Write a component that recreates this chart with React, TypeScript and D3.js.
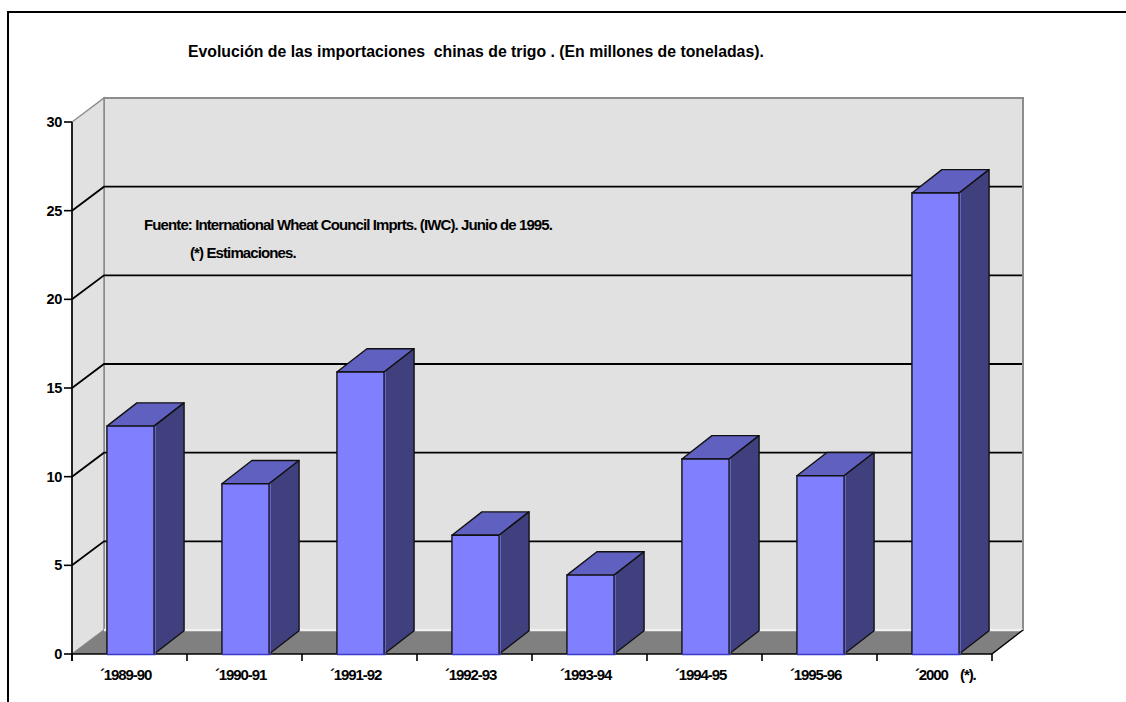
import React from 'react';
import * as d3 from 'd3';

const categories = ['´1989-90', '´1990-91', '´1991-92', '´1992-93', '´1993-94', '´1994-95', '´1995-96', '´2000    (*).'];
const values = [12.85, 9.6, 15.9, 6.7, 4.45, 11.0, 10.05, 26.0];
const yTicks = [0, 5, 10, 15, 20, 25, 30];

const width = 1126;
const height = 702;
const left = 72;
const right = 992;
const bottom = 654;
const top = 122;
const depthX = 32;
const depthY = 24;
const barDepthX = 30;
const barDepthY = 23.3;
const font = '"Liberation Sans", Arial, sans-serif';

// +1 porque las barras del original van un pixel a la derecha de la escala
const x = d3.scaleBand<string>().domain(categories).range([left + 1, right + 1]).paddingInner(0.59).paddingOuter(0.295);
const y = d3.scaleLinear().domain([0, 30]).range([bottom, top]);

const poly = (pts: [number, number][]) => d3.line()(pts) + 'Z';

export default function App() {
  return (
    <svg width={width} height={height} style={{ position: 'absolute', left: 0, top: 0, background: '#fff' }}>
      {/* marco */}
      <path d={`M8,${height}V12H${width}`} fill="none" stroke="#000" strokeWidth={2} />

      <text x={188} y={56.5} fontFamily={font} fontWeight="bold" fontSize={15.8} fill="#000" style={{ whiteSpace: 'pre' }}>
        Evolución de las importaciones  chinas de trigo . (En millones de toneladas).
      </text>

      {/* paredes y suelo */}
      <path d={poly([[left + depthX, top - depthY], [right + 31, top - depthY], [right + 31, bottom - depthY], [left + depthX, bottom - depthY]])} fill="#e1e1e1" stroke="#8c8c8c" strokeWidth={2} />
      <path d={poly([[left, top], [left + depthX, top - depthY], [left + depthX, bottom - depthY], [left, bottom]])} fill="#e1e1e1" stroke="#8c8c8c" strokeWidth={1.5} />
      <path d={poly([[left, bottom], [left + depthX, bottom - depthY], [right + 31, bottom - depthY], [right, bottom]])} fill="#808080" />
      <line x1={left + depthX} x2={right + 31} y1={bottom - depthY} y2={bottom - depthY} stroke="#f0f0f0" strokeWidth={2.5} />
      <line x1={right} x2={right + 31} y1={bottom} y2={bottom - depthY} stroke="#000" strokeWidth={1.5} />

      {/* rejilla */}
      {yTicks.filter(t => t > 0 && t < 30).map(t => (
        <path key={t} d={`M${left},${y(t)}L${left + depthX},${y(t) - depthY}H${right + 30}`} fill="none" stroke="#000" strokeWidth={1.8} />
      ))}

      {/* ejes */}
      <line x1={left} x2={right} y1={bottom} y2={bottom} stroke="#000" strokeWidth={1.6} />
      <line x1={left} x2={left} y1={top} y2={bottom + 7} stroke="#000" strokeWidth={1.6} />
      {yTicks.map(t => (
        <g key={t}>
          <line x1={left - 8} x2={left} y1={y(t)} y2={y(t)} stroke="#000" strokeWidth={1.6} />
          <text x={62} y={y(t) + 5} textAnchor="end" fontFamily={font} fontWeight="bold" fontSize={14.5} letterSpacing={-0.3} fill="#000">{t}</text>
        </g>
      ))}
      {d3.range(categories.length + 1).map(i => (
        <line key={i} x1={left + x.step() * i} x2={left + x.step() * i} y1={bottom} y2={bottom + 7} stroke="#000" strokeWidth={1.6} />
      ))}

      {/* barras */}
      {categories.map((c, i) => {
        const x0 = x(c)!;
        const x1 = x0 + x.bandwidth();
        const yt = y(values[i]);
        return (
          <g key={c}>
            <path d={poly([[x0, yt], [x0 + barDepthX, yt - barDepthY], [x1 + barDepthX, yt - barDepthY], [x1, yt]])} fill="#6060c0" stroke="#111" strokeWidth={1.4} strokeLinejoin="round" />
            <path d={poly([[x1, yt], [x1 + barDepthX, yt - barDepthY], [x1 + barDepthX, bottom - barDepthY], [x1, bottom]])} fill="#40407f" stroke="#111" strokeWidth={1.4} strokeLinejoin="round" />
            <rect x={x0} y={yt} width={x1 - x0 + 1.5} height={bottom - yt} fill="#8080ff" />
            <path d={`M${x0},${bottom}V${yt}H${x1}V${bottom}`} fill="none" stroke="#111" strokeWidth={1.4} />
            <line x1={x0} x2={x1 + 1.5} y1={bottom + 0.5} y2={bottom + 0.5} stroke="#3a3ac8" strokeWidth={1.5} />
          </g>
        );
      })}

      {categories.map((c, i) => (
        <text key={c} x={x(c)! + (i === categories.length - 1 ? 3 : -7)} y={680} fontFamily={font} fontWeight="bold" fontSize={15} letterSpacing={-1.1} fill="#000" style={{ whiteSpace: 'pre' }}>{c}</text>
      ))}

      {/* notas */}
      <text x={144} y={229.5} fontFamily={font} fontWeight="bold" fontSize={15} letterSpacing={-0.89} fill="#000">Fuente: International Wheat Council Imprts. (IWC). Junio de 1995.</text>
      <text x={190} y={257.5} fontFamily={font} fontWeight="bold" fontSize={15} letterSpacing={-0.89} fill="#000">(*) Estimaciones.</text>
    </svg>
  );
}
